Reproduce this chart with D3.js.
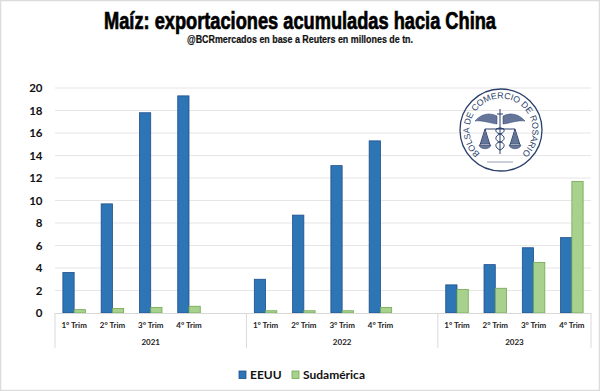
<!DOCTYPE html>
<html><head><meta charset="utf-8">
<style>
html,body{margin:0;padding:0;background:#fff;overflow:hidden}
svg{display:block}
</style>
<script src="https://cdn.jsdelivr.net/npm/d3@7"></script>
</head><body>
<svg id="c" width="600" height="391"></svg>
<script>
const years = ["2021","2022","2023"];
const quarters = ["1° Trim","2° Trim","3° Trim","4° Trim"];
const eeuu = [3.6,9.7,17.8,19.3, 3.0,8.7,13.1,15.3, 2.5,4.3,5.8,6.7];
const sudamerica = [0.3,0.4,0.5,0.6, 0.2,0.2,0.2,0.5, 2.1,2.2,4.5,11.7];
const yTicks = [0,2,4,6,8,10,12,14,16,18,20];
const seriesNames = ["EEUU","Sudamérica"];
const colors = ["#2E75B6","#A9D18E"];
const strokes = ["#1F4E8C","#70A850"];

const slotsPerYear = [5,5,4];
const slots = [];
years.forEach((y,i)=>{ for(let k=0;k<slotsPerYear[i];k++) slots.push(y+"|"+k); });

const svg = d3.select("#c");
const font = "Lato, 'Open Sans', sans-serif";
svg.append("rect").attr("x",0.5).attr("y",0.5).attr("width",599).attr("height",390)
  .attr("fill","#fff").attr("stroke","#dcdcdc").attr("stroke-width",1.5);

const x = d3.scaleBand().domain(slots).range([55,591]).padding(0);
const y = d3.scaleLinear().domain([0,20]).range([313,88]);
const inner = d3.scaleBand().domain(seriesNames).range([0,x.bandwidth()]).paddingInner(0).paddingOuter(0.7);

// title
svg.append("text").attr("x",300).attr("y",28.5).attr("text-anchor","middle")
  .attr("font-family","'Liberation Sans Narrow','Liberation Sans',sans-serif")
  .attr("font-weight",700).attr("font-size",23).attr("fill","#000")
  .attr("stroke","#000").attr("stroke-width",0.7)
  .attr("textLength",392).attr("lengthAdjust","spacingAndGlyphs")
  .text("Maíz: exportaciones acumuladas hacia China");
svg.append("text").attr("x",300).attr("y",43).attr("text-anchor","middle")
  .attr("font-family","'Liberation Sans Narrow','Liberation Sans',sans-serif")
  .attr("font-weight",700).attr("font-size",10.5).attr("fill","#111")
  .attr("stroke","#111").attr("stroke-width",0.2)
  .attr("textLength",226).attr("lengthAdjust","spacingAndGlyphs")
  .text("@BCRmercados en base a Reuters en millones de tn.");

// y axis + grid
const yAxis = d3.axisLeft(y).tickValues(yTicks).tickSize(0).tickPadding(12.5).tickFormat(d3.format("d"));
const gy = svg.append("g").attr("transform","translate(55,0)").call(yAxis);
gy.select(".domain").remove();
gy.selectAll("text").attr("font-family",font).attr("font-weight",700).attr("font-size",11.5).attr("fill","#111");
svg.append("g").selectAll("line").data(yTicks.filter(d=>d>0)).join("line")
  .attr("x1",55).attr("x2",591).attr("y1",d=>y(d)).attr("y2",d=>y(d))
  .attr("stroke","#e6e6e6").attr("stroke-width",1.2);

// logo
const logo = svg.append("g").attr("transform","translate(501,130)");
const navy = "#2b3f6b";
logo.append("circle").attr("r",41).attr("fill","none").attr("stroke",navy).attr("stroke-width",1.3);
logo.append("path").attr("id","logoArc").attr("fill","none")
  .attr("d","M 0 31.5 A 31.5 31.5 0 1 1 0 -31.5 A 31.5 31.5 0 1 1 0 31.5");
logo.append("text").attr("font-family","'Liberation Sans Narrow','Liberation Sans',sans-serif")
  .attr("font-size",8.8).attr("fill",navy)
  .append("textPath").attr("href","#logoArc").attr("startOffset","50%").attr("text-anchor","middle")
  .text("BOLSA DE COMERCIO DE ROSARIO");
const emblemLines = [
  "M-1 -21 V24","M-4 -16 H2",
  "M-5 -1 C4 -4 6 2 -1 4 C-7 6 -6 11 -1 12 C5 13 4 18 -1 20","M3 -1 C-6 -4 -8 2 -1 4 C5 6 4 11 -1 12 C-7 13 -6 18 -1 20",
  "M-16 -1 H14",
  "M-16 -1 L-21 15 M-16 -1 L-11 15 M14 -1 L9 15 M14 -1 L19 15",
  "M-14 32 H12"
];
const emblemFills = [
  "M-4 -14 C-12 -18 -20 -16 -26 -9 C-19 -10 -12 -7 -4 -6 Z",
  "M2 -14 C10 -18 18 -16 24 -9 C17 -10 10 -7 2 -6 Z",
  "M-22 15 H-10 C-11 20 -21 20 -22 15 Z",
  "M8 15 H20 C19 20 9 20 8 15 Z",
  "M-16 2 L-20 14 H-12 Z","M14 2 L10 14 H18 Z"
];
logo.append("g").selectAll("path").data(emblemFills).join("path").attr("d",d=>d)
  .attr("fill","#66769a").attr("stroke",navy).attr("stroke-width",0.5);
logo.append("g").selectAll("path").data(emblemLines).join("path").attr("d",d=>d)
  .attr("fill","none").attr("stroke",navy).attr("stroke-width",(d,i)=>i===6?0.5:1);

// bars
const rows = [];
let idx = 0;
years.forEach((yr,i)=>quarters.forEach((q,k)=>{
  rows.push({slot:yr+"|"+k,q,vals:[eeuu[idx],sudamerica[idx]]}); idx++;
}));
const groups = svg.append("g").selectAll("g").data(rows).join("g")
  .attr("transform",d=>`translate(${x(d.slot)},0)`);
groups.selectAll("rect").data(d=>d.vals.map((v,i)=>({v,i}))).join("rect")
  .attr("x",d=>inner(seriesNames[d.i])).attr("width",inner.bandwidth())
  .attr("y",d=>y(d.v)).attr("height",d=>y(0)-y(d.v))
  .attr("fill",d=>colors[d.i]).attr("stroke",d=>strokes[d.i]).attr("stroke-width",0.8);

// category axis
const xa = d3.axisBottom(x).tickValues(rows.map(d=>d.slot)).tickSize(0).tickPadding(9)
  .tickFormat(s=>quarters[+s.split("|")[1]]);
const gx = svg.append("g").attr("transform","translate(0,313)").call(xa);
gx.select(".domain").remove();
gx.selectAll("text").attr("font-family",font).attr("font-weight",700).attr("font-size",8).attr("fill","#222");
svg.append("line").attr("x1",55).attr("x2",591).attr("y1",y(0)+0.5).attr("y2",y(0)+0.5).attr("stroke","#d9d9d9").attr("stroke-width",1);

let cum = 0;
const seps = [0];
slotsPerYear.forEach(n=>{cum+=n;seps.push(cum);});
svg.append("g").selectAll("line").data(seps).join("line")
  .attr("x1",d=>d<slots.length?x(slots[d]):x.range()[1]).attr("x2",d=>d<slots.length?x(slots[d]):x.range()[1])
  .attr("y1",313).attr("y2",348).attr("stroke","#d9d9d9").attr("stroke-width",1);
svg.append("g").selectAll("text").data(years).join("text")
  .attr("x",(d,i)=>{const a=d3.sum(slotsPerYear.slice(0,i));return x(slots[a])+x.bandwidth()*slotsPerYear[i]/2;})
  .attr("y",345).attr("text-anchor","middle").attr("font-family",font).attr("font-weight",700)
  .attr("font-size",8).attr("fill","#222").text(d=>d);

// legend
const lg = svg.append("g");
const lgX = [239,292];
seriesNames.forEach((n,i)=>{
  lg.append("rect").attr("x",lgX[i]).attr("y",371).attr("width",7).attr("height",7.5)
    .attr("fill",colors[i]).attr("stroke",strokes[i]).attr("stroke-width",0.8);
  lg.append("text").attr("x",lgX[i]+11).attr("y",379).attr("font-family",font).attr("font-weight",700)
    .attr("font-size",12).attr("fill","#111").text(n);
});
</script>
</body></html>
